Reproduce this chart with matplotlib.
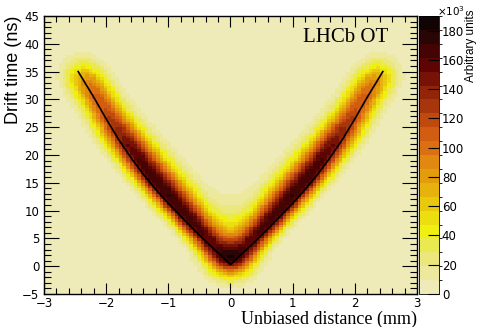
import numpy as np
import matplotlib
matplotlib.use("Agg")
import matplotlib.pyplot as plt
from matplotlib.colors import ListedColormap, BoundaryNorm

# rt-relation (|distance| in mm, drift time in ns)
r_pts = [0.0, 0.2, 0.4, 0.6, 0.8, 1.0, 1.2, 1.4, 1.6, 1.8, 2.0, 2.2, 2.45]
t_pts = [0.3, 2.4, 4.5, 6.7, 9.0, 11.3, 13.8, 16.5, 19.5, 22.8, 26.5, 30.4, 35.0]
# relative number of hits along the curve (lighter towards the straw edge)
w_pts = [0.79, 0.83, 0.92, 1.0, 1.0, 1.0, 1.0, 1.0, 1.0, 0.97, 0.93, 0.85, 0.6]
# resolution along the curve
sig_r_pts = [0.22, 0.19, 0.16, 0.15, 0.15, 0.15, 0.16, 0.17, 0.18, 0.2, 0.2,
             0.21, 0.22]           # mm
sig_low_pts = [2.3, 1.8, 1.4, 1.2, 1.2, 1.2, 1.2, 1.2, 1.2, 1.2, 1.2, 1.2,
               1.3]                # ns, below the curve
sig_high_pts = [1.6, 2.3, 3.0, 3.8, 4.2, 4.1, 4.0, 3.7, 3.3, 2.9, 2.6, 2.5,
                2.5]               # ns, above the curve (core)
tail_pts = [0.45, 0.3, 0.15, 0.05, 0, 0, 0, 0, 0, 0, 0, 0, 0]
sigma_tail = 5.5                   # ns, late-hit tail near the wire
peak_counts = 181.0                # x 10^3, darkest bin

x_edges = np.linspace(-3, 3, 101)
t_edges = np.linspace(-5, 45, 101)

z_max = 190
n_levels = 20
palette = [
    "#efebb8", "#ece89c", "#ebe77c", "#ebe950", "#efef12",
    "#ecde0f", "#e9c90c", "#e6b20b", "#e39c0c", "#e08810",
    "#db7012", "#d25c10", "#c0490e", "#a8360c", "#902509",
    "#761306", "#5e0504", "#440404", "#2a0505", "#100404",
]

# fill the 2D histogram
xc = 0.5 * (x_edges[1:] + x_edges[:-1])
tc = 0.5 * (t_edges[1:] + t_edges[:-1])
X, T = np.meshgrid(xc, tc)
r_fine = np.linspace(0, r_pts[-1], 250)
cols = [np.interp(r_fine, r_pts, p) for p in
        (t_pts, w_pts, sig_r_pts, sig_low_pts, sig_high_pts, tail_pts)]
H = np.zeros_like(X)
for side in (-1, 1):
    for r, t, w, sr, sl, sh, f in zip(r_fine, *cols):
        dt = T - t
        g_up = (1 - f) * np.exp(-0.5 * (dt / sh) ** 2) \
            + f * np.exp(-0.5 * (dt / sigma_tail) ** 2)
        g = np.where(dt < 0, np.exp(-0.5 * (dt / sl) ** 2), g_up)
        H += w * np.exp(-0.5 * ((X - side * r) / sr) ** 2) * g
H = H / H.max() * peak_counts

fig = plt.figure(figsize=(4.8, 3.27), dpi=100)
ax = fig.add_axes([44 / 480, 1 - 294 / 327, 373 / 480, 278 / 327])
cax = fig.add_axes([419 / 480, 1 - 294 / 327, 20 / 480, 278 / 327])

cmap = ListedColormap(palette)
levels = np.linspace(0, z_max, n_levels + 1)
norm = BoundaryNorm(levels, cmap.N)
mesh = ax.pcolormesh(x_edges, t_edges, H, cmap=cmap, norm=norm)

curve_x = [-r for r in r_pts[::-1]] + r_pts[1:]
curve_t = t_pts[::-1] + t_pts[1:]
ax.plot(curve_x, curve_t, color="black", lw=1.2)

ax.set_xlim(-3, 3)
ax.set_ylim(-5, 45)
ax.set_xticks(np.arange(-3, 4, 1))
ax.set_xticks(np.arange(-3, 3.01, 0.2), minor=True)
ax.set_yticks(np.arange(-5, 46, 5))
ax.set_yticks(np.arange(-5, 46, 1), minor=True)
ax.set_xticklabels(["\u22123", "\u22122", "\u22121", "0", "1", "2", "3"])
ax.set_yticklabels(["\u22125"] + [str(v) for v in range(0, 46, 5)])
ax.tick_params(which="both", direction="in", top=True, right=True,
               labelsize=8.5, width=0.8)
ax.tick_params(axis="x", which="major", length=8, pad=2)
ax.tick_params(axis="x", which="minor", length=4)
ax.tick_params(axis="y", which="major", length=11, pad=3.5)
ax.tick_params(axis="y", which="minor", length=5)
for sp in ax.spines.values():
    sp.set_linewidth(1.0)

ax.set_ylabel("Drift time (ns)", loc="top", fontsize=13,
              family="Liberation Sans")
ax.yaxis.set_label_coords(-0.059, 1.0)
ax.set_xlabel("Unbiased distance (mm)", loc="right", fontsize=13,
              family="Liberation Serif", labelpad=1)
ax.text(0.923, 0.905, "LHCb OT", transform=ax.transAxes, ha="right",
        va="baseline", fontsize=15, family="Liberation Serif")

cb = fig.colorbar(mesh, cax=cax, ticks=np.arange(0, 181, 20))
cax.set_ylim(0, z_max)
cax.tick_params(direction="in", length=8, width=0.8, labelsize=8.5, pad=2)
cax.set_yticklabels([str(v) for v in range(0, 181, 20)])
cb.outline.set_linewidth(0.6)
fig.text(437 / 480, 1 - 11 / 327, "\u00d710$^3$", ha="left", va="center",
         fontsize=7.5)
fig.text(471 / 480, 1 - 10 / 327, "Arbitrary units", rotation=90,
         ha="center", va="top", fontsize=8.5, family="Liberation Sans")

fig.savefig("out.png", dpi=100)
